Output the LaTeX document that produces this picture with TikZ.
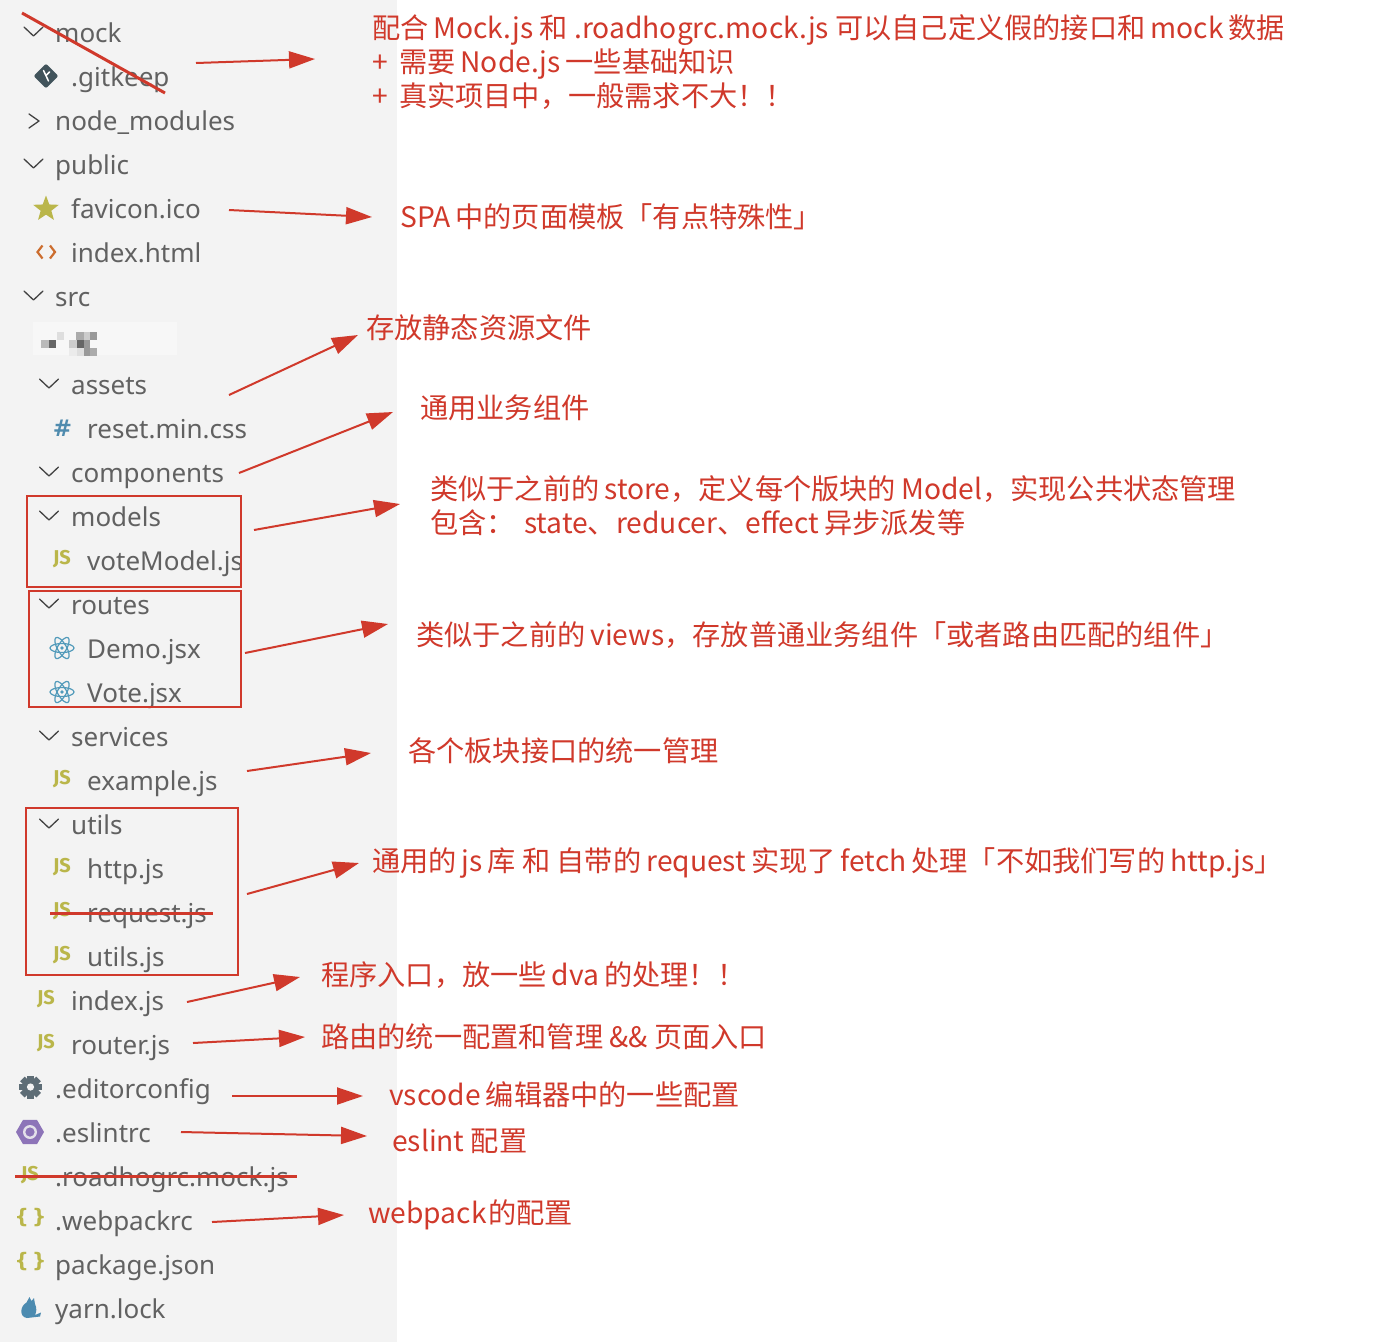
\documentclass[tikz,border=0pt]{standalone}
\usepackage{fontspec}
\setmainfont{Noto Sans}
\newfontfamily\cjk{Noto Sans CJK SC}
\newfontfamily\iconfont{Fira Sans}
\newfontfamily\iconfontb{DejaVu Sans}
\newcommand{\cg}{\hspace{5pt}}
\usetikzlibrary{arrows.meta,shapes.geometric}
\definecolor{panel}{HTML}{F3F3F3}
\definecolor{treetxt}{HTML}{616161}
\definecolor{chev}{HTML}{424242}
\definecolor{ann}{HTML}{D0392B}
\definecolor{jsy}{HTML}{BAB64A}
\definecolor{gitc}{HTML}{41535B}
\definecolor{htmlc}{HTML}{CC6D2E}
\definecolor{cssc}{HTML}{4F8BAE}
\definecolor{reactc}{HTML}{519ABA}
\definecolor{gearc}{HTML}{5E6D76}
\definecolor{eslc}{HTML}{8D74B8}
\definecolor{yarnc}{HTML}{4C8BB0}
\tikzset{
  item/.style={anchor=base west, inner sep=0pt, font=\fontsize{26}{30}\selectfont, text=treetxt},
  note/.style={anchor=base west, inner sep=0pt, font=\cjk\fontsize{28.2}{34}\selectfont, text=ann},
  arr/.style={draw=ann, line width=2pt, -{Triangle[length=26pt,width=17pt]}},
  strike/.style={draw=ann, line width=3pt},
  redbox/.style={draw=ann, line width=1.6pt},
  jsicon/.style={inner sep=0pt, font=\iconfont\bfseries\fontsize{20}{21}\selectfont, text=jsy},
  bricon/.style={inner sep=0pt, font=\iconfontb\bfseries\fontsize{20}{22}\selectfont, text=jsy},
  chevdown/.pic={\draw[chev, line width=1.3pt, line cap=round, line join=round] (-9.5,-4.5) -- (0,4.5) -- (9.5,-4.5);},
  chevright/.pic={\draw[chev, line width=1.3pt, line cap=round, line join=round] (-5,-7) -- (5,0) -- (-5,7);},
  atom/.pic={
    \draw[reactc, line width=1.2pt] (0,0) ellipse [x radius=12, y radius=4.5];
    \draw[reactc, line width=1.2pt, rotate=60] (0,0) ellipse [x radius=12, y radius=4.5];
    \draw[reactc, line width=1.2pt, rotate=120] (0,0) ellipse [x radius=12, y radius=4.5];
    \fill[reactc] (0,0) circle (1.9);}
}
\begin{document}
\begin{tikzpicture}[x=1pt,y=-1pt]
\useasboundingbox (0,0) rectangle (1394,1342);
\fill[white] (0,0) rectangle (1394,1342);
\fill[panel] (0,0) rectangle (397,1342);

% ---------- tree: chevrons ----------
\pic at (33.5,31.5) {chevdown};
\pic at (34,121) {chevright};
\pic at (33.5,163.5) {chevdown};
\pic at (33.5,295.5) {chevdown};
\pic at (49,383.5) {chevdown};
\pic at (49,471.5) {chevdown};
\pic at (49,515.5) {chevdown};
\pic at (49,603.5) {chevdown};
\pic at (49,735.5) {chevdown};
\pic at (49,823.5) {chevdown};

% ---------- tree: icons ----------
\node[diamond, fill=gitc, minimum width=25pt, minimum height=25pt, inner sep=0pt, rounded corners=2pt] (igit) at (46,76) {};
\draw[white, line width=1.5pt, line cap=round] (43.5,70.5) -- (48.5,81) (46,75.5) -- (49.5,72);
\node[star, star points=5, star point ratio=2.4, fill=jsy, minimum size=27pt, inner sep=0pt] (istar) at (46,209) {};
\draw[htmlc, line width=2.2pt] (42.5,245.5) -- (37.5,252) -- (42.5,258.5) (50,245.5) -- (55,252) -- (50,258.5);
\node[inner sep=0pt, font=\iconfontb\bfseries\fontsize{23}{24}\selectfont, text=cssc] (icss) at (62.5,428) {\#};
\node[jsicon] (ijs1) at (62,559) {JS};
\pic at (62,648) {atom};
\pic at (62,692) {atom};
\node[jsicon] (ijs2) at (62,779) {JS};
\node[jsicon] (ijs3) at (62,867) {JS};
\node[jsicon] (ijs4) at (62,911) {JS};
\node[jsicon] (ijs5) at (62,955) {JS};
\node[jsicon] (ijs6) at (46,999) {JS};
\node[jsicon] (ijs7) at (46,1043) {JS};
\node[jsicon] (ijs8) at (30,1175) {JS};
% gear
\fill[gearc] (30.5,1087) circle (8.6);
\foreach \a in {0,45,...,315}{
  \fill[gearc, rotate around={\a:(30.5,1087)}] (27.3,1075.5) rectangle (33.7,1081);}
\fill[panel] (30.5,1087) circle (3.6);
% eslint
\node[regular polygon, regular polygon sides=6, fill=eslc, minimum size=28pt, inner sep=0pt] (iesl) at (30,1132) {};
\fill[panel!85!eslc] (30,1132) circle (7);
\fill[eslc] (30,1132) circle (4.6);
% braces
\node[bricon] (ibr1) at (30.5,1218) {\{\,\}};
\node[bricon] (ibr2) at (30.5,1262) {\{\,\}};
% yarn cat
\fill[yarnc] (27,1318) .. controls (19,1317) and (20,1306) .. (26.5,1302.5) -- (29.5,1297) -- (31.5,1301) -- (34,1298) -- (35,1304) .. controls (37,1308) and (36.5,1312) .. (35,1315) -- (41,1312.5) -- (40,1316.5) -- cycle;

% blurred entry
\fill[panel!70!white] (33,322) rectangle (177,355);
\fill[black!13] (57,332) rectangle (64,340);
\fill[black!33] (76,332) rectangle (84,340);
\fill[black!20] (84,332) rectangle (90,340);
\fill[black!40] (90,332) rectangle (97,340);
\fill[black!27] (41,340) rectangle (49,348);
\fill[black!60] (49,340) rectangle (56,348);
\fill[black!20] (69,340) rectangle (77,348);
\fill[black!60] (77,340) rectangle (84,348);
\fill[black!40] (84,340) rectangle (90,348);
\fill[black!8] (69,348) rectangle (77,356);
\fill[black!13] (77,348) rectangle (84,356);
\fill[black!40] (84,348) rectangle (90,356);
\fill[black!33] (90,348) rectangle (97,356);

% ---------- tree: labels ----------
\node[item] (tmock) at (55,42) {mock};
\node[item] (tgit) at (71,86) {.gitkeep};
\node[item] (tnm) at (55,130) {node\_modules};
\node[item] (tpub) at (55,174) {public};
\node[item] (tfav) at (71,218) {favicon.ico};
\node[item] (thtml) at (71,262) {index.html};
\node[item] (tsrc) at (55,306) {src};
\node[item] (tass) at (71,394) {assets};
\node[item] (tcss) at (87,438) {reset.min.css};
\node[item] (tcomp) at (71,482) {components};
\node[item] (tmod) at (71,526) {models};
\node[item] (tvm) at (87,570) {voteModel.js};
\node[item] (trout) at (71,614) {routes};
\node[item] (tdemo) at (87,658) {Demo.jsx};
\node[item] (tvote) at (87,702) {Vote.jsx};
\node[item] (tserv) at (71,746) {services};
\node[item] (tex) at (87,790) {example.js};
\node[item] (tutil) at (71,834) {utils};
\node[item] (thttp) at (87,878) {http.js};
\node[item] (treq) at (87,922) {request.js};
\node[item] (tuj) at (87,966) {utils.js};
\node[item] (tidx) at (71,1010) {index.js};
\node[item] (trtr) at (71,1054) {router.js};
\node[item] (tedit) at (55,1098) {.editorconfig};
\node[item] (tesl) at (55,1142) {.eslintrc};
\node[item] (troad) at (55,1186) {.roadhogrc.mock.js};
\node[item] (twp) at (55,1230) {.webpackrc};
\node[item] (tpkg) at (55,1274) {package.json};
\node[item] (tyarn) at (55,1318) {yarn.lock};

% ---------- red boxes ----------
\draw[redbox] (27,496) rectangle (241,587);
\draw[redbox] (29,591) rectangle (241,707);
\draw[redbox] (26,808) rectangle (238,975);

% ---------- strike-throughs ----------
\draw[strike] (22,13) -- (165,93);
\draw[strike] (50,913) -- (213,913);
\draw[strike] (15,1176) -- (297,1176);

% ---------- annotations ----------
\node[note] (n1a) at (372,38) {配合\cg Mock.js 和 .roadhogrc.mock.js 可以自己定义假的接口和\cg mock\cg 数据};
\node[note] (n1b) at (372,72) {+\hspace{5pt} 需要\cg Node.js\cg 一些基础知识};
\node[note] (n1c) at (372,106) {+\hspace{5pt} 真实项目中，一般需求不大！！};
\node[note] (n2) at (400,227) {SPA\cg 中的页面模板「有点特殊性」};
\node[note] (n3) at (366,338) {存放静态资源文件};
\node[note] (n4) at (420,418) {通用业务组件};
\node[note] (n5a) at (430,499) {类似于之前的\cg store，定义每个版块的\cg Model，实现公共状态管理};
\node[note] (n5b) at (430,533) {包含：\hspace{3pt} state、reducer、effect\cg 异步派发等};
\node[note] (n6) at (416,645) {类似于之前的\cg views，存放普通业务组件「或者路由匹配的组件」};
\node[note] (n7) at (408,761) {各个板块接口的统一管理};
\node[note] (n8) at (372,871) {通用的\cg js\cg 库 和 自带的\cg request\cg 实现了\cg fetch\cg 处理「不如我们写的\cg http.js」};
\node[note] (n9) at (321,985) {程序入口，放一些\cg dva\cg 的处理！！};
\node[note] (n10) at (321,1047) {路由的统一配置和管理 \&\& 页面入口};
\node[note] (n11) at (389,1105) {vscode\cg 编辑器中的一些配置};
\node[note] (n12) at (392,1151) {eslint 配置};
\node[note] (n13) at (368,1223) {webpack\hspace{2pt}的配置};

% ---------- arrows ----------
\coordinate (s1) at (196,63);   \coordinate (e1) at (315,59);
\coordinate (s2) at (229,210);  \coordinate (e2) at (372,217);
\coordinate (s3) at (229,395);  \coordinate (e3) at (358,335);
\coordinate (s4) at (239,473);  \coordinate (e4) at (393,412);
\coordinate (s5) at (254,530);  \coordinate (e5) at (400,504);
\coordinate (s6) at (245,653);  \coordinate (e6) at (388,624);
\coordinate (s7) at (247,771);  \coordinate (e7) at (371,753);
\coordinate (s8) at (247,894);  \coordinate (e8) at (359,863);
\coordinate (s9) at (187,1002); \coordinate (e9) at (300,977);
\coordinate (s10) at (193,1043); \coordinate (e10) at (305,1037);
\coordinate (s11) at (232,1096); \coordinate (e11) at (363,1096);
\coordinate (s12) at (181,1132); \coordinate (e12) at (367,1136);
\coordinate (s13) at (212,1222); \coordinate (e13) at (344,1215);
\foreach \i in {1,...,13}{\draw[arr] (s\i) -- (e\i);}
\end{tikzpicture}
\end{document}
